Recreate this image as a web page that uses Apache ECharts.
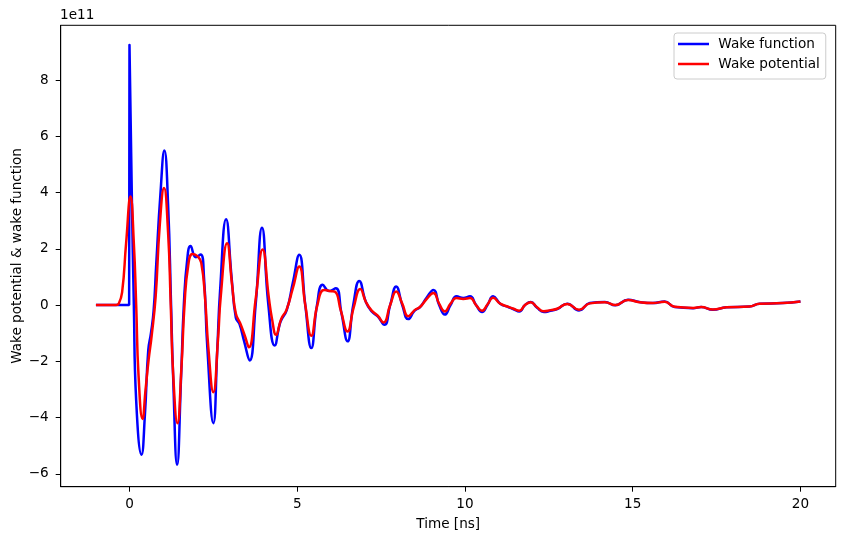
<!DOCTYPE html>
<html>
<head>
<meta charset="utf-8">
<script src="https://cdn.jsdelivr.net/npm/echarts@6/dist/echarts.min.js"></script>
<style>
html,body{margin:0;padding:0;background:#fff;}
#chart{width:844px;height:540px;}
</style>
</head>
<body>
<div id="chart"></div>
<script>
// Values are in units of 1e11 (shown as axis offset text "1e11")
const wakeFunction = [
[-1,0],[-0.01,0],[0.0,9.25],[0.07,3.9],[0.13,0],[0.2,-3.4],[0.36,-5.32],[0.46,-3.9],[0.56,-1.6],[0.64,-1.0],
[0.72,-0.2],[0.8,1.5],[0.92,3.9],[1.04,5.5],[1.15,3.6],[1.24,0],[1.3,-2.5],[1.42,-5.68],[1.54,-2.5],[1.62,0],
[1.72,1.6],[1.82,2.1],[1.98,1.7],[2.12,1.8],[2.22,1.0],[2.32,-1.5],[2.5,-4.2],[2.62,-1.5],[2.7,0.5],[2.88,3.05],
[3.05,0.9],[3.17,-0.45],[3.28,-0.68],[3.42,-1.3],[3.58,-1.97],[3.76,0],[3.95,2.75],[4.14,0],[4.33,-1.44],[4.5,-0.6],
[4.69,-0.17],[4.87,0.8],[5.06,1.79],[5.24,0],[5.42,-1.53],[5.59,0],[5.76,0.72],[5.95,0.5],[6.15,0.6],[6.32,-0.3],
[6.5,-1.29],[6.67,0],[6.85,0.86],[7.05,0.1],[7.22,-0.23],[7.4,-0.4],[7.6,-0.7],[7.77,0],[7.95,0.66],[8.13,0],
[8.31,-0.5],[8.5,-0.2],[8.66,-0.07],[8.85,0.25],[9.06,0.54],[9.23,0],[9.4,-0.34],[9.57,0],[9.75,0.31],[9.95,0.25],
[10.15,0.31],[10.33,0],[10.51,-0.25],[10.67,0],[10.84,0.31],[11.05,0.05],[11.29,-0.07],[11.45,-0.15],[11.62,-0.23],[11.79,0],
[11.96,0.11],[12.15,-0.1],[12.35,-0.25],[12.55,-0.2],[12.75,-0.14],[13.05,0.05],[13.4,-0.19],[13.72,0.07],[14.17,0.11],[14.48,-0.01],
[14.86,0.19],[15.2,0.11],[15.6,0.07],[15.95,0.13],[16.25,-0.07],[16.8,-0.11],[17.04,-0.07],[17.39,-0.17],[17.79,-0.08],[18.48,-0.05],
[18.78,0.05],[19.47,0.07],[20,0.13]
];
const wakePotential = [
[-1,0],[-0.4,0],[-0.32,0.05],[-0.22,0.45],[-0.1,2.2],[0.03,3.86],[0.13,2.2],[0.2,0],[0.27,-2.5],[0.39,-4.05],
[0.48,-3.0],[0.57,-1.95],[0.66,-1.1],[0.78,0.3],[0.9,2.8],[1.03,4.16],[1.15,2.6],[1.23,0],[1.3,-2.4],[1.43,-4.2],
[1.55,-2.2],[1.64,0],[1.75,1.4],[1.88,1.82],[2.04,1.72],[2.14,1.5],[2.25,0.3],[2.35,-1.5],[2.5,-3.1],[2.64,-1.2],
[2.72,0.3],[2.91,2.2],[3.06,0.7],[3.17,-0.3],[3.3,-0.65],[3.44,-1.1],[3.56,-1.5],[3.76,0.2],[3.97,1.98],[4.15,0.3],
[4.25,-0.5],[4.37,-1.06],[4.52,-0.5],[4.68,-0.17],[4.87,0.6],[5.06,1.37],[5.24,0],[5.42,-1.09],[5.6,0],[5.8,0.54],
[5.97,0.5],[6.12,0.48],[6.3,-0.2],[6.5,-0.94],[6.68,-0.1],[6.88,0.57],[7.05,0.1],[7.22,-0.2],[7.4,-0.38],[7.57,-0.62],
[7.77,0],[7.95,0.48],[8.13,0.05],[8.31,-0.4],[8.5,-0.18],[8.66,-0.07],[8.85,0.2],[9.06,0.43],[9.23,0.05],[9.4,-0.23],
[9.57,0.05],[9.75,0.25],[9.95,0.22],[10.15,0.25],[10.33,0],[10.51,-0.2],[10.67,0.02],[10.84,0.26],[11.05,0.05],[11.29,-0.06],
[11.45,-0.13],[11.62,-0.2],[11.79,0],[11.96,0.1],[12.15,-0.08],[12.35,-0.22],[12.55,-0.18],[12.75,-0.13],[13.05,0.04],[13.4,-0.17],
[13.72,0.06],[14.17,0.1],[14.48,0],[14.86,0.18],[15.2,0.1],[15.6,0.07],[15.95,0.12],[16.25,-0.06],[16.8,-0.1],[17.04,-0.07],
[17.39,-0.16],[17.79,-0.08],[18.48,-0.05],[18.78,0.05],[19.47,0.07],[20,0.13]
];
const xTicks = [0, 5, 10, 15, 20];
const yTicks = [-6, -4, -2, 0, 2, 4, 6, 8];
const seriesNames = ['Wake function', 'Wake potential'];
const offsetText = '1e11';

const FONT = 'DejaVu Sans';
const FS = 13.6;
const chart = echarts.init(document.getElementById('chart'), null, {renderer: 'canvas'});
chart.setOption({
  animation: false,
  backgroundColor: '#fff',
  grid: {left: 60.7, right: 8.3, top: 25.3, bottom: 53.3, show: true, borderColor: '#000', borderWidth: 1,
         containLabel: false, outerBoundsMode: 'none'},
  xAxis: {
    type: 'value', min: -2.05, max: 21.05,
    name: 'Time [ns]', nameLocation: 'middle', nameGap: 31, nameMoveOverlap: false,
    nameTextStyle: {fontFamily: FONT, fontSize: FS, color: '#000'},
    axisLine: {show: true, onZero: false, lineStyle: {color: '#000', width: 1}},
    axisTick: {show: true, length: 5, customValues: xTicks, lineStyle: {color: '#000'}},
    axisLabel: {margin: 11, fontFamily: FONT, fontSize: FS, color: '#000', customValues: xTicks},
    splitLine: {show: false}
  },
  yAxis: {
    type: 'value', min: -6.46, max: 9.95,
    name: 'Wake potential & wake function', nameLocation: 'middle', nameGap: 36, nameMoveOverlap: false,
    nameTextStyle: {fontFamily: FONT, fontSize: FS, color: '#000'},
    axisLine: {show: true, onZero: false, lineStyle: {color: '#000', width: 1}},
    axisTick: {show: true, length: 5, customValues: yTicks, lineStyle: {color: '#000'}},
    axisLabel: {margin: 12, fontFamily: FONT, fontSize: FS, color: '#000', customValues: yTicks,
      formatter: v => (v < 0 ? '\u2212' + Math.abs(v) : String(v))},
    splitLine: {show: false}
  },
  legend: {
    data: seriesNames,
    orient: 'vertical', left: 674, top: 33,
    padding: [4, 6, 8, 4], itemGap: 6,
    itemWidth: 31, itemHeight: 2.5, icon: 'rect',
    backgroundColor: 'rgba(255,255,255,0.8)', borderColor: '#cccccc', borderWidth: 1, borderRadius: 3,
    formatter: n => ' ' + n,
    textStyle: {fontFamily: FONT, fontSize: FS, color: '#000'}
  },
  graphic: [{type: 'text', left: 60, top: 8, style: {text: offsetText, font: FS + 'px "DejaVu Sans"', fill: '#000'}}],
  series: [
    {name: seriesNames[0], type: 'line', data: wakeFunction, smooth: 0.5, showSymbol: false, symbol: 'none',
     lineStyle: {color: '#0000ff', width: 2.5}, itemStyle: {color: '#0000ff'}, z: 2},
    {name: seriesNames[1], type: 'line', data: wakePotential, smooth: 0.5, showSymbol: false, symbol: 'none',
     lineStyle: {color: '#ff0000', width: 2.5}, itemStyle: {color: '#ff0000'}, z: 3}
  ]
});
</script>
</body>
</html>
